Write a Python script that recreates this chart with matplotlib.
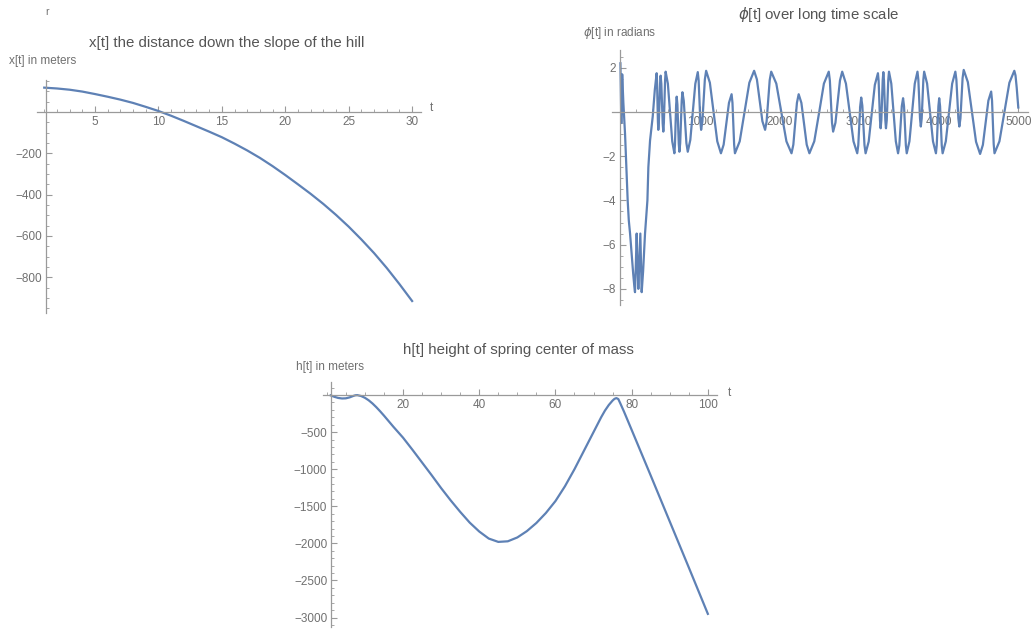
import matplotlib
matplotlib.use("Agg")
import matplotlib.pyplot as plt
from matplotlib.ticker import MultipleLocator, FixedLocator

# x[t] : distance down the slope
x_t = [1, 2, 3, 4, 5, 6, 7, 8, 9, 10, 11, 12, 13, 14, 15,
       16, 17, 18, 19, 20, 21, 22, 23, 24, 25, 26, 27, 28, 29, 30]
x_val = [118, 114, 108, 99, 87, 74, 60, 44, 25, 5, -18, -43, -69, -95, -122,
         -153, -186, -222, -262, -305, -350, -396, -445, -498, -555, -617, -683, -755, -833, -915]

# phi[t] : angle over a long time scale (early dip, then one row per swing)
phi_t = [0, 6, 11, 16, 22, 28, 37, 48, 58, 75, 91, 105, 121, 140, 160, 175, 183,
         193, 204, 214, 225, 237, 250, 258, 267, 285, 309, 339, 351, 372, 406, 432, 455,
         460, 466, 471, 476,
         483, 491, 498, 505,
         514, 522, 531, 539,
         546, 554, 561, 568,
         596, 623, 651, 678,
         685, 693, 700, 707,
         716, 724, 733, 741,
         751, 760, 770, 779,
         796, 813, 829, 846,
         878, 909, 941, 972,
         983, 993, 1004, 1014,
         1030, 1046, 1061, 1077,
         1124, 1170, 1217, 1263,
         1297, 1330, 1364, 1397,
         1408, 1418, 1429, 1439,
         1499, 1560, 1620, 1680,
         1715, 1749, 1784, 1818,
         1837, 1857, 1876, 1895,
         1959, 2023, 2086, 2150,
         2173, 2195, 2218, 2240,
         2274, 2308, 2341, 2375,
         2436, 2497, 2557, 2618,
         2632, 2646, 2659, 2673,
         2702, 2730, 2759, 2787,
         2834, 2882, 2929, 2976,
         2989, 3001, 3014, 3026,
         3040, 3054, 3067, 3081,
         3120, 3159, 3197, 3236,
         3245, 3253, 3262, 3270,
         3279, 3287, 3296, 3304,
         3312, 3321, 3329, 3337,
         3347, 3356, 3366, 3375,
         3404, 3432, 3461, 3489,
         3505, 3521, 3536, 3552,
         3564, 3575, 3587, 3598,
         3632, 3666, 3699, 3733,
         3744, 3754, 3765, 3775,
         3786, 3796, 3807, 3817,
         3854, 3891, 3928, 3965,
         3975, 3986, 3996, 4006,
         4017, 4028, 4038, 4049,
         4089, 4129, 4169, 4209,
         4222, 4234, 4247, 4259,
         4273, 4287, 4300, 4314,
         4366, 4417, 4469, 4520,
         4555, 4590, 4624, 4659,
         4670, 4680, 4691, 4701,
         4763, 4826, 4888, 4950,
         4965, 4980, 5000]
phi_v = [2.2, 0.6, -0.5, 0.5, 1.7, 1.2, 0.4, -0.3, -1.0, -2.5, -4.0, -4.9, -5.5, -6.4, -7.3, -7.9, -8.15,
         -7.0, -5.5, -6.8, -8.0, -6.8, -5.5, -6.8, -8.15, -7.2, -5.5, -4.0, -2.5, -1.3, -0.2, 1.0, 1.75,
         1.38, 0.47, -0.44, -0.81,
         -0.45, 0.42, 1.28, 1.64,
         1.27, 0.38, -0.52, -0.89,
         -0.49, 0.47, 1.42, 1.82,
         1.28, -0.03, -1.33, -1.87,
         -1.50, -0.59, 0.32, 0.69,
         0.33, -0.56, -1.44, -1.80,
         -1.41, -0.46, 0.50, 0.89,
         0.50, -0.46, -1.41, -1.80,
         -1.27, 0.0, 1.27, 1.80,
         1.42, 0.50, -0.43, -0.81,
         -0.42, 0.53, 1.47, 1.86,
         1.32, 0.0, -1.33, -1.87,
         -1.48, -0.54, 0.41, 0.80,
         0.41, -0.54, -1.48, -1.87,
         -1.33, 0.0, 1.32, 1.86,
         1.47, 0.53, -0.42, -0.81,
         -0.43, 0.51, 1.44, 1.82,
         1.28, -0.03, -1.33, -1.87,
         -1.48, -0.54, 0.41, 0.80,
         0.41, -0.54, -1.48, -1.87,
         -1.33, -0.03, 1.28, 1.82,
         1.42, 0.47, -0.49, -0.89,
         -0.49, 0.47, 1.42, 1.82,
         1.28, -0.03, -1.33, -1.87,
         -1.50, -0.61, 0.28, 0.65,
         0.28, -0.61, -1.50, -1.87,
         -1.34, -0.06, 1.22, 1.75,
         1.39, 0.51, -0.38, -0.74,
         -0.37, 0.53, 1.43, 1.80,
         1.43, 0.53, -0.37, -0.74,
         -0.37, 0.54, 1.45, 1.82,
         1.28, -0.03, -1.33, -1.87,
         -1.51, -0.63, 0.26, 0.62,
         0.26, -0.63, -1.51, -1.87,
         -1.33, -0.03, 1.28, 1.82,
         1.46, 0.58, -0.30, -0.66,
         -0.30, 0.58, 1.46, 1.82,
         1.28, -0.03, -1.33, -1.87,
         -1.51, -0.63, 0.26, 0.62,
         0.26, -0.63, -1.51, -1.87,
         -1.33, -0.03, 1.28, 1.82,
         1.46, 0.58, -0.30, -0.66,
         -0.29, 0.62, 1.53, 1.90,
         1.35, 0.0, -1.35, -1.90,
         -1.49, -0.49, 0.51, 0.92,
         0.51, -0.48, -1.46, -1.87,
         -1.33, 0.0, 1.32, 1.86,
         1.65, 1.1, 0.2]

# h[t] : height of the spring centre of mass
h_t = [1, 2, 3, 4, 5, 6, 7, 7.5, 8, 9, 10, 11, 12, 13, 14, 15, 17.5, 20, 22.5, 25,
       27.5, 30, 32.5, 35, 37.5, 40, 42.5, 45, 47.5, 50, 52.5, 55, 57.5, 60, 62.5, 65,
       67.5, 70, 72, 73, 74, 75, 75.5, 76, 76.5, 77, 78, 80, 85, 90, 95, 100]
h_val = [-5, -25, -40, -47, -45, -32, -12, -4, -2, -14, -38, -72, -115, -165, -220, -278, -430, -575, -740, -910,
         -1080, -1255, -1420, -1575, -1720, -1840, -1935, -1980, -1972, -1920, -1835, -1725, -1590, -1430, -1230, -1000,
         -750, -500, -300, -210, -135, -75, -52, -42, -55, -110, -225, -470, -1085, -1705, -2325, -2950]

plt.rcParams['font.family'] = ['Liberation Sans', 'DejaVu Sans']

W, H = 1035, 630
line_blue = '#5e81b5'
axis_gray = '#9a9a9a'
label_gray = '#707070'
title_gray = '#555555'


def axes_box(left, top, right, bottom):
    return [left / W, 1 - bottom / H, (right - left) / W, (bottom - top) / H]


def fig_text(fig, x, y, s, size, color, ha='center'):
    fig.text(x / W, 1 - y / H, s, ha=ha, va='center', fontsize=size, color=color)


def mathematica_axes(ax, y_axis_at):
    ax.spines['top'].set_visible(False)
    ax.spines['right'].set_visible(False)
    ax.spines['left'].set_position(('data', y_axis_at))
    ax.spines['bottom'].set_position(('data', 0))
    for s in ['left', 'bottom']:
        ax.spines[s].set_color(axis_gray)
        ax.spines[s].set_linewidth(0.9)
    ax.tick_params(which='both', direction='in', colors=axis_gray,
                   labelcolor=label_gray, labelsize=8.5, pad=3)
    ax.tick_params(which='major', length=4, width=0.8)
    ax.tick_params(which='minor', length=2, width=0.6)
    ax.patch.set_alpha(0)


fig = plt.figure(figsize=(W / 100, H / 100), dpi=100)

fig_text(fig, 47, 12, 'r', 7.5, label_gray)

# top left: x[t]
ax1 = fig.add_axes(axes_box(37, 80, 421, 313))
ax1.plot(x_t, x_val, color=line_blue, lw=1.6, solid_joinstyle='round')
ax1.set_xlim(0.43, 30.7)
ax1.set_ylim(-973, 155)
mathematica_axes(ax1, 1.14)
ax1.xaxis.set_major_locator(FixedLocator([5, 10, 15, 20, 25, 30]))
ax1.xaxis.set_minor_locator(MultipleLocator(1))
ax1.yaxis.set_major_locator(FixedLocator([-800, -600, -400, -200]))
ax1.yaxis.set_minor_locator(MultipleLocator(50))
fig_text(fig, 227, 43, 'x[t] the distance down the slope of the hill', 10.8, title_gray)
fig_text(fig, 43, 61, 'x[t] in meters', 8.5, label_gray)
fig_text(fig, 431, 108, 't', 8.5, label_gray)

# top right: phi[t]
ax2 = fig.add_axes(axes_box(612, 50, 1028, 305))
ax2.plot(phi_t, phi_v, color=line_blue, lw=1.6, solid_joinstyle='round')
ax2.set_xlim(-106, 5122)
ax2.set_ylim(-8.73, 2.8)
mathematica_axes(ax2, 0)
ax2.xaxis.set_major_locator(FixedLocator([1000, 2000, 3000, 4000, 5000]))
ax2.xaxis.set_minor_locator(MultipleLocator(200))
ax2.yaxis.set_major_locator(FixedLocator([-8, -6, -4, -2, 2]))
ax2.yaxis.set_minor_locator(MultipleLocator(0.5))
fig_text(fig, 819, 15, r'$\phi$[t] over long time scale', 10.8, title_gray)
fig_text(fig, 620, 33, r'$\phi$[t] in radians', 8.5, label_gray)

# bottom: h[t]
ax3 = fig.add_axes(axes_box(323, 382, 717, 627))
ax3.plot(h_t, h_val, color=line_blue, lw=1.6, solid_joinstyle='round')
ax3.set_xlim(-1.0, 102.4)
ax3.set_ylim(-3127, 175)
mathematica_axes(ax3, 1.2)
ax3.xaxis.set_major_locator(FixedLocator([20, 40, 60, 80, 100]))
ax3.xaxis.set_minor_locator(MultipleLocator(5))
ax3.yaxis.set_major_locator(FixedLocator([-3000, -2500, -2000, -1500, -1000, -500]))
ax3.yaxis.set_minor_locator(MultipleLocator(100))
fig_text(fig, 518, 350, 'h[t] height of spring center of mass', 10.8, title_gray)
fig_text(fig, 330, 367, 'h[t] in meters', 8.5, label_gray)
fig_text(fig, 729, 393, 't', 8.5, label_gray)

fig.savefig('out.png', dpi=100, facecolor='white')
